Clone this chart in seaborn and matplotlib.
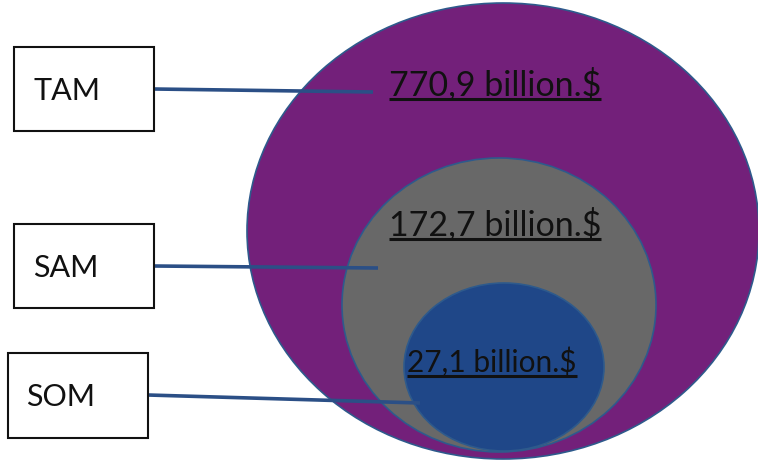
import matplotlib
matplotlib.use("Agg")
import matplotlib.pyplot as plt
from matplotlib.patches import Ellipse, Rectangle
import seaborn as sns

# ---- data ----
segments = ["TAM", "SAM", "SOM"]
values = [770.9, 172.7, 27.1]
value_labels = ["770,9 billion.$", "172,7 billion.$", "27,1 billion.$"]

sns.set_theme(style="white")
plt.rcParams['font.family'] = ['Lato', 'DejaVu Sans']

fill_colors = ["#73207A", "#686868", "#1F4788"]
edge_color = "#2E5A8C"
line_color = "#2B4F86"

W, H = 758, 461
fig = plt.figure(figsize=(W / 100, H / 100), dpi=100)
ax = fig.add_axes([0, 0, 1, 1])
ax.set_xlim(0, W)
ax.set_ylim(H, 0)
ax.axis("off")

# ellipse geometry (center x, center y, width, height) in pixel coords
ell_geom = [(503, 231, 512, 456), (499, 305, 314, 294), (504, 367, 200, 168)]
for (cx, cy, w, h), c in zip(ell_geom, fill_colors):
    ax.add_patch(Ellipse((cx, cy), w, h, facecolor=c, edgecolor=edge_color, lw=1.2, zorder=1))

# boxes (x0, y0, w, h)
box_geom = [(14, 47, 140, 84), (14, 224, 140, 84), (8, 353, 140, 85)]
box_text_x = [33, 33, 26]
box_text_y = [91, 268, 397]
line_geom = [((154, 89), (373, 92)), ((154, 266), (378, 268)), ((148, 395), (420, 403))]
for seg, (x0, y0, bw, bh), tx, ty, ((x1, y1), (x2, y2)) in zip(
        segments, box_geom, box_text_x, box_text_y, line_geom):
    ax.add_patch(Rectangle((x0, y0), bw, bh, facecolor="white", edgecolor="#111111", lw=1.5, zorder=3))
    ax.text(tx, ty, seg, fontsize=22, ha="left", va="center", color="#111111", zorder=4)
    ax.plot([x1, x2], [y1, y2], color=line_color, lw=2.6, zorder=2, solid_capstyle="butt")

# value labels with underline
val_pos = [(495, 95, 24.5), (495, 235, 24.5), (492, 372, 21.5)]
fig.canvas.draw()
renderer = fig.canvas.get_renderer()
for lab, (vx, vy, fs) in zip(value_labels, val_pos):
    t = ax.text(vx, vy, lab, fontsize=fs, ha="center", va="baseline", color="#111111", zorder=5)
    bb = t.get_window_extent(renderer=renderer)
    inv = ax.transData.inverted()
    (xa, _), (xb, _) = inv.transform([(bb.x0, bb.y0), (bb.x1, bb.y0)])
    ax.plot([xa, xb], [vy + 4, vy + 4], color="#111111", lw=2.2, zorder=5, solid_capstyle="butt")

fig.savefig("out.png", dpi=100)
